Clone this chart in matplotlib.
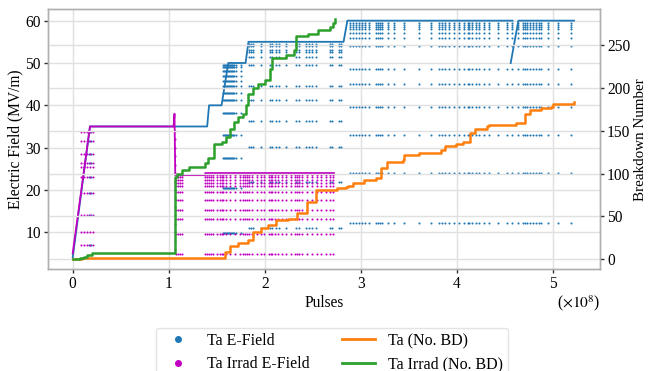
import numpy as np
import matplotlib
matplotlib.use("Agg")
import matplotlib.pyplot as plt
from matplotlib.lines import Line2D

plt.rcParams['font.family'] = ['Liberation Serif', 'DejaVu Serif']
plt.rcParams['mathtext.fontset'] = 'stix'
plt.rcParams['font.size'] = 11.2

SCALE = 1e8  # pulses

# ---------------- Ta E-Field (blue) envelope (nan = break) ----------------
ta_env_x = [0.0, 0.18, 1.40, 1.42, 1.55, 1.62, 1.80, 1.83, 2.82, 2.86, 4.58, np.nan, 4.56, 4.64, 5.22]
ta_env_y = [4.0, 35.0, 35.0, 40.0, 40.0, 50.0, 50.0, 55.0, 55.0, 60.0, 60.0, np.nan, 50.0, 60.0, 60.0]

# drops (columns x levels)
ta_ramp_cols = [0.17, 0.19]
ta_ramp_levels = [33.6, 31.5, 28.4, 26.3, 23.1, 19.3, 14.0, 7.0]
ta_50_cols = [1.57, 1.58, 1.59, 1.60, 1.61, 1.62, 1.63, 1.64, 1.65, 1.66, 1.67, 1.68, 1.70, 1.75]
ta_50_levels = [49.5, 49.0, 48.0, 47.0, 45.8, 44.6, 43.0, 41.3, 38.1, 33.0, 27.5, 20.4, 9.8]
ta_55_cols = [1.84, 1.86, 1.88, 1.96, 2.05, 2.08, 2.12, 2.15, 2.22, 2.32, 2.36, 2.43, 2.46,
              2.49, 2.53, 2.68, 2.70, 2.77, 2.79]
ta_55_levels = [54.5, 54.0, 53.0, 52.7, 51.5, 49.5, 44.5, 41.3, 36.3, 30.2, 22.0, 11.0]
ta_60_cols = [2.89, 2.92, 2.95, 2.98, 3.01, 3.04, 3.09, 3.16, 3.18, 3.20, 3.22, 3.28, 3.35,
              3.45, 3.61, 3.73, 3.81, 3.85, 3.88, 3.92, 3.97, 4.02, 4.07, 4.12, 4.13, 4.16,
              4.20, 4.23, 4.28, 4.33, 4.43, 4.52, 4.57, 4.64, 4.69, 4.71, 4.73, 4.76, 4.79,
              4.82, 4.85, 4.88, 4.95, 5.05, 5.19]
ta_60_levels = [59.5, 59.0, 58.5, 58.0, 57.0, 56.0, 54.0, 48.5, 45.0, 39.7, 33.0, 24.1, 12.2]

# ---------------- Ta Irrad E-Field (magenta) ----------------
irr_env_x = [0.0, 0.18, 1.05, 1.06, 1.068, 1.38, 1.38, 2.72]
irr_env_y = [5.0, 35.0, 35.0, 38.0, 23.5, 23.5, 24.0, 24.0]

irr_ramp_cols = [0.09, 0.12, 0.15, 0.18, 0.21]
irr_ramp_levels = [33.6, 31.5, 28.4, 26.3, 25.5, 23.1, 19.3, 14.0, 10.1, 7.0]
irr_spike_cols = [1.063]
irr_spike_levels = [34, 32, 30, 28, 26, 24, 22, 20, 18, 16, 14, 12, 10, 8, 6, 5]
irr_24_cols = [1.08, 1.10, 1.12, 1.14, 1.38, 1.40, 1.42, 1.44, 1.46, 1.50, 1.53, 1.55,
               1.57, 1.60, 1.64, 1.69, 1.74, 1.77, 1.79, 1.81, 1.84, 1.87, 1.92, 1.96,
               1.99, 2.04, 2.06, 2.08, 2.11, 2.14, 2.18, 2.22, 2.27, 2.31, 2.34, 2.36,
               2.39, 2.44, 2.49, 2.54, 2.59, 2.64, 2.68, 2.71]
irr_24_levels = [23.5, 23.0, 22.4, 21.6, 21.0, 19.6, 17.6, 15.3, 13.1, 9.6, 4.9]

# ---------------- Breakdown numbers ----------------
ta_bd_x = [0.0, 0.10, 0.18, 1.58, 1.59, 1.64, 1.72, 1.83, 1.88, 1.96, 2.03, 2.12, 2.24,
           2.34, 2.44, 2.53, 2.75, 2.85, 2.87, 2.92, 3.03, 3.16, 3.21, 3.27, 3.44, 3.45,
           3.61, 3.83, 3.88, 3.99, 4.06, 4.14, 4.19, 4.31, 4.33, 4.62, 4.71, 4.76, 4.88,
           4.98, 5.00, 5.22]
ta_bd = [0, 1, 2, 2, 9, 15, 19, 22, 32, 36, 40, 46, 47, 54, 67, 81, 83, 84, 86, 89, 93,
         95, 107, 114, 116, 122, 124, 128, 132, 135, 137, 147, 152, 155, 157, 159, 170,
         174, 176, 178, 181, 183]

irr_bd_x = [0.0, 0.08, 0.12, 0.15, 0.20, 1.065, 1.09, 1.14, 1.21, 1.38, 1.41, 1.47,
            1.55, 1.60, 1.64, 1.68, 1.72, 1.77, 1.80, 1.83, 1.88, 1.93, 2.00, 2.05,
            2.08, 2.22, 2.30, 2.32, 2.45, 2.55, 2.68, 2.71, 2.73]
irr_bd = [0, 1, 3, 5, 7, 96, 99, 104, 108, 112, 118, 134, 137, 143, 152, 160, 166, 170,
          180, 193, 200, 204, 209, 222, 235, 238, 244, 260, 263, 267, 271, 276, 280]


def grid_points(cols, levels):
    xs, ys = [], []
    for c in cols:
        for lv in levels:
            xs.append(c)
            ys.append(lv)
    return np.array(xs), np.array(ys)


BLUE = '#1f77b4'
MAG = '#c000c0'
ORANGE = '#ff7f0e'
GREEN = '#2ca02c'

fig = plt.figure(figsize=(6.5, 3.71), dpi=100)
ax = fig.add_axes([0.0734, 0.274, 0.8497, 0.7017])
ax2 = ax.twinx()

for a in (ax, ax2):
    for s in a.spines.values():
        s.set_color('#b0b0b0')
        s.set_linewidth(1.0)

ax.grid(True, color='#e0e0e0', linewidth=1.0)
ax2.grid(True, axis='y', color='#e0e0e0', linewidth=1.0)
ax.set_axisbelow(True)
ax2.set_axisbelow(True)

# blue
ax.plot(np.array(ta_env_x), ta_env_y, color=BLUE, lw=1.3, zorder=2)
for cols, lv in [(ta_ramp_cols, ta_ramp_levels), (ta_50_cols, ta_50_levels),
                 (ta_55_cols, ta_55_levels), (ta_60_cols, ta_60_levels)]:
    xs, ys = grid_points(cols, lv)
    ax.scatter(xs, ys, s=2.2, color=BLUE, linewidths=0, zorder=2)

# magenta
ax.plot(np.array(irr_env_x), irr_env_y, color=MAG, lw=1.3, zorder=3)
for cols, lv in [(irr_ramp_cols, irr_ramp_levels), (irr_spike_cols, irr_spike_levels),
                 (irr_24_cols, irr_24_levels)]:
    xs, ys = grid_points(cols, lv)
    ax.scatter(xs, ys, s=2.2, color=MAG, linewidths=0, zorder=3)

ax.set_xlim(-0.26, 5.49)
ax.set_ylim(1.25, 62.75)
ax.set_yticks([10, 20, 30, 40, 50, 60])
ax.set_xticks([0, 1, 2, 3, 4, 5])
ax.set_xlabel('Pulses', labelpad=2)
ax.set_ylabel('Electric Field (MV/m)')
ax.yaxis.set_label_coords(-0.059, 0.5)
ax.yaxis.label.set_va('center')

ax2.plot(np.array(ta_bd_x), ta_bd, color=ORANGE, lw=1.8, drawstyle='steps-post')
ax2.plot(np.array(irr_bd_x), irr_bd, color=GREEN, lw=1.8, drawstyle='steps-post')
ax2.set_ylim(-11.7, 292)
ax2.set_yticks([0, 50, 100, 150, 200, 250])
ax2.set_ylabel('Breakdown Number', fontsize=10.8)
ax2.yaxis.set_label_coords(1.0742, 0.5)
ax2.yaxis.label.set_va('center')

for a in (ax, ax2):
    a.tick_params(length=3, width=1, color='#333333', pad=2)

ax.text(1.0, -0.09, r'($\times10^{8}$)', transform=ax.transAxes,
        ha='right', va='top', fontsize=11.2)

handles = [
    Line2D([], [], marker='o', ls='none', color=BLUE, markersize=4),
    Line2D([], [], marker='o', ls='none', color=MAG, markersize=4),
    Line2D([], [], color=ORANGE, lw=2),
    Line2D([], [], color=GREEN, lw=2),
]
labels = ['Ta E-Field', 'Ta Irrad E-Field', 'Ta (No. BD)', 'Ta Irrad (No. BD)']
leg = fig.legend(handles, labels, ncol=2, loc='upper center',
                 bbox_to_anchor=(0.511, 0.137), frameon=True, fontsize=11.5,
                 handlelength=2.1, columnspacing=2.0, handletextpad=0.8,
                 borderpad=0.3, labelspacing=0.45)
leg.get_frame().set_edgecolor('#dddddd')

fig.savefig('out.png', dpi=100)
